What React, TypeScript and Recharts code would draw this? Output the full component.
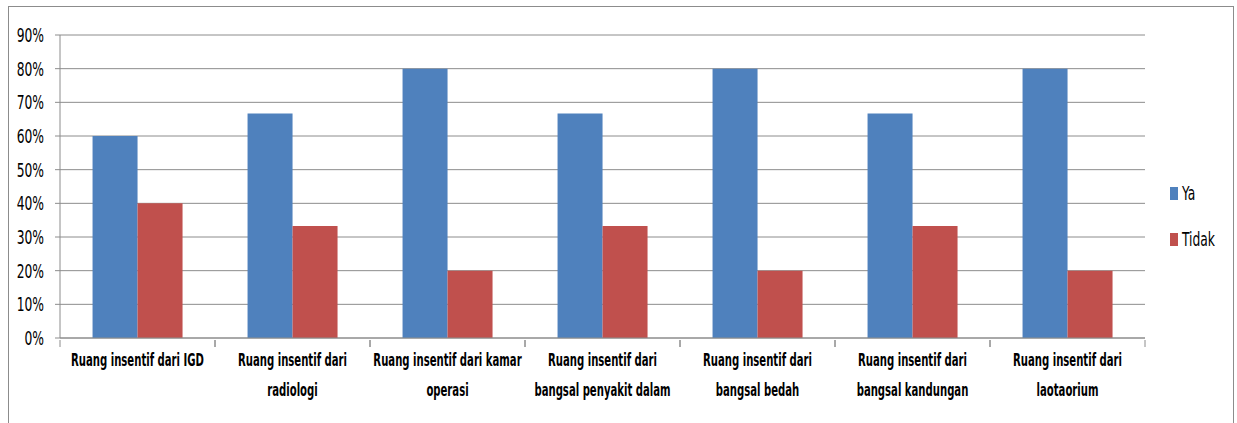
import { BarChart, Bar, XAxis, YAxis, CartesianGrid } from "recharts";

const categories = [
  "Ruang insentif dari IGD",
  "Ruang insentif dari\nradiologi",
  "Ruang insentif dari kamar\noperasi",
  "Ruang insentif dari\nbangsal penyakit dalam",
  "Ruang insentif dari\nbangsal bedah",
  "Ruang insentif dari\nbangsal kandungan",
  "Ruang insentif dari\nlaotaorium",
];
const ya = [60, 66.7, 80, 66.7, 80, 66.7, 80];
const tidak = [40, 33.3, 20, 33.3, 20, 33.3, 20];
const yTicks = [0, 10, 20, 30, 40, 50, 60, 70, 80, 90];
const seriesNames = ["Ya", "Tidak"];
const seriesColors = ["#4F81BD", "#C0504D"];

const data = categories.map((name, i) => ({ name, Ya: ya[i], Tidak: tidak[i] }));

const FONT = "'DejaVu Sans Condensed', 'DejaVu Sans', sans-serif";
const GRID = "#8c8c8c";
const W = 1237;
const H = 423;
const X_H = 85;
const M = { top: 35, right: 92, bottom: 0, left: 0 };
const Y_W = 60;
const HALF_BAND = (W - M.left - M.right - Y_W) / categories.length / 2;
const SX = 0.72;

const CatTick = (props: any) => {
  const { x, y, payload } = props;
  const lines = String(payload.value).split("\n");
  const axisY = y - 6;
  return (
    <g>
      <line x1={x - HALF_BAND} x2={x - HALF_BAND} y1={axisY} y2={axisY + 7} stroke={GRID} />
      <line x1={x + HALF_BAND} x2={x + HALF_BAND} y1={axisY} y2={axisY + 7} stroke={GRID} />
      <g transform={`translate(${x},0) scale(0.66,1)`}>
        {lines.map((l, i) => (
          <text
            key={i}
            x={0}
            y={axisY + 26 + i * 30}
            textAnchor="middle"
            fontFamily={FONT}
            fontWeight="bold"
            fontSize={17}
            fill="#000"
          >
            {l}
          </text>
        ))}
      </g>
    </g>
  );
};

const PctTick = (props: any) => {
  const { x, y, payload } = props;
  return (
    <g transform={`translate(${x - 9},${y}) scale(${SX},1)`}>
      <text x={0} y={0} dy="0.36em" textAnchor="end" fontFamily={FONT} fontSize={19} fill="#000">
        {`${payload.value}%`}
      </text>
    </g>
  );
};

export default function App() {
  return (
    <div style={{ position: "absolute", left: 0, top: 0, width: W, height: H, overflow: "hidden", background: "#fff" }}>
      <div
        style={{
          position: "absolute",
          left: 8,
          top: 6,
          width: 1226,
          height: 460,
          border: `1.5px solid ${GRID}`,
          boxSizing: "border-box",
        }}
      />
      <div style={{ position: "absolute", left: 0, top: 0 }}>
        <BarChart width={W} height={H} data={data} margin={M} barGap={0} barCategoryGap="21%">
          <CartesianGrid vertical={false} stroke={GRID} />
          <XAxis
            dataKey="name"
            interval={0}
            height={X_H}
            tickLine={false}
            axisLine={{ stroke: GRID }}
            tick={<CatTick />}
          />
          <YAxis
            width={Y_W}
            domain={[0, 90]}
            ticks={yTicks}
            interval={0}
            axisLine={{ stroke: GRID }}
            tickLine={{ stroke: GRID }}
            tickSize={5}
            tick={<PctTick />}
          />
          <Bar dataKey="Ya" fill={seriesColors[0]} isAnimationActive={false} />
          <Bar dataKey="Tidak" fill={seriesColors[1]} isAnimationActive={false} />
        </BarChart>
      </div>
      <div style={{ position: "absolute", left: 1170, top: 183, fontFamily: FONT, fontSize: 19, color: "#000" }}>
        {seriesNames.map((label, i) => (
          <div key={label} style={{ display: "flex", alignItems: "center", height: 20, marginBottom: i === 0 ? 26 : 0 }}>
            <span style={{ display: "inline-block", width: 8, height: 13, background: seriesColors[i], marginRight: 4 }} />
            <span style={{ display: "inline-block", transform: `scaleX(${SX})`, transformOrigin: "left center" }}>{label}</span>
          </div>
        ))}
      </div>
    </div>
  );
}
